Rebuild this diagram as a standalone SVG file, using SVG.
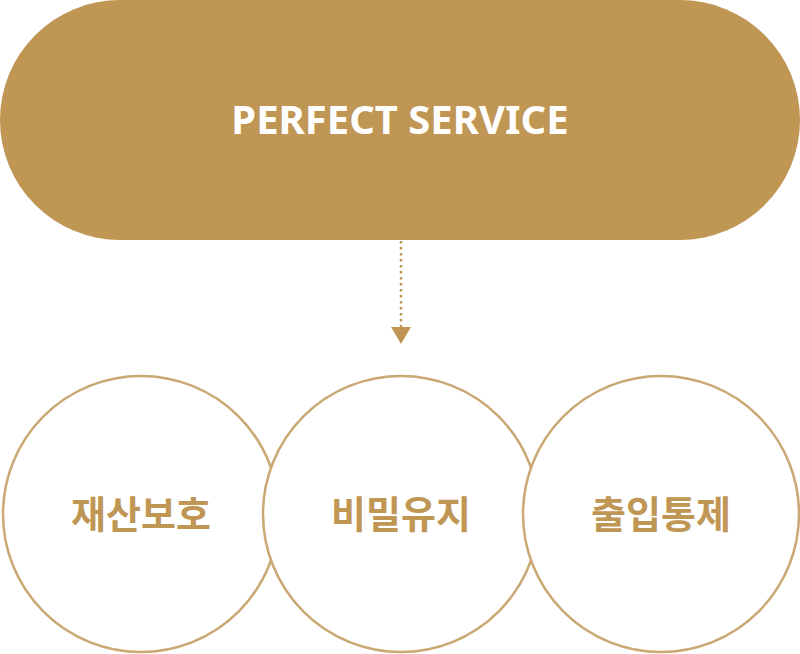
<svg xmlns="http://www.w3.org/2000/svg" width="800" height="654" viewBox="0 0 800 654">
<style>
.c{fill:#fff;stroke:#c9a874;stroke-width:2.5}
.k{font-family:"Noto Sans CJK KR","Noto Sans",sans-serif;font-weight:700;font-size:38px;fill:#c09654;text-anchor:middle}
</style>
<defs><marker id="a" markerWidth="10" markerHeight="8" refX="0" refY="4" orient="auto" markerUnits="userSpaceOnUse" viewBox="0 0 10 8"><path d="M0,0 L10,4 L0,8z" fill="#c09654"/></marker></defs>
<g id="top"><rect x="0" y="0" width="800" height="240" rx="120" fill="#c09654"/>
<text x="400" y="134" font-family="'Noto Sans','Open Sans',sans-serif" font-weight="700" font-size="40" fill="#fff" text-anchor="middle">PERFECT SERVICE</text></g>
<g id="connectors"><line x1="401" y1="241" x2="401" y2="327" stroke="#c09654" stroke-width="2.5" stroke-dasharray="2.5,3.5"/>
<path d="M391,327 L411,327 L401,344z" fill="#c09654"/></g>
<g id="n1"><circle class="c" cx="141" cy="514" r="138" fill-opacity="0"/><text class="k" x="141" y="528">재산보호</text></g>
<g id="n2"><circle class="c" cx="401" cy="514" r="138" fill="none"/><text class="k" x="401" y="528">비밀유지</text></g>
<g id="n3"><circle class="c" cx="661" cy="514" r="138" fill="none"/><text class="k" x="661" y="528">출입통제</text></g>
</svg>
